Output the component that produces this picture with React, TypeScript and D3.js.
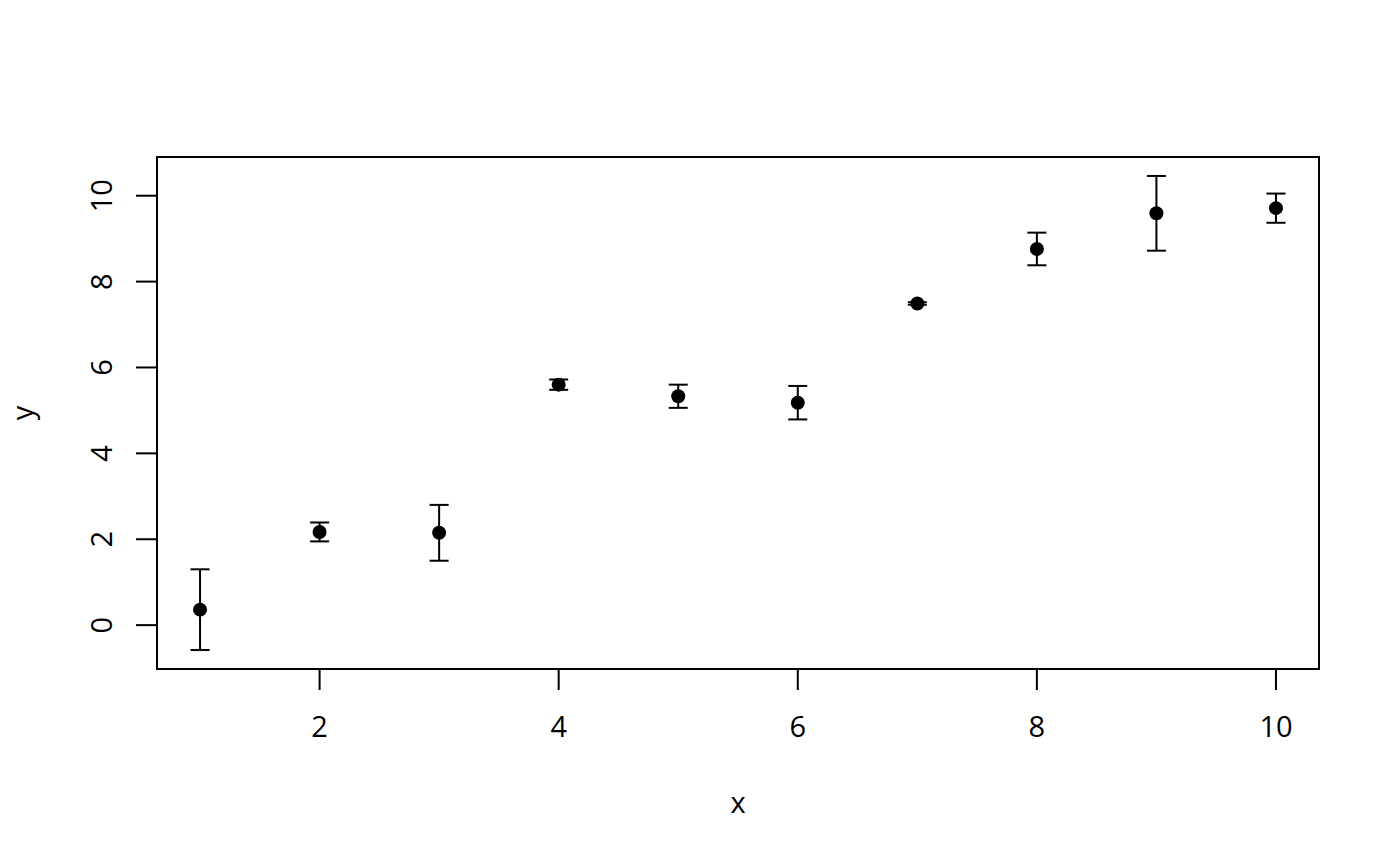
import React, { useEffect, useRef } from "react";
import * as d3 from "d3";

// values
const xs = [1, 2, 3, 4, 5, 6, 7, 8, 9, 10];
const means = [0.36, 2.17, 2.15, 5.6, 5.33, 5.18, 7.49, 8.76, 9.59, 9.71];
const errs = [0.94, 0.22, 0.65, 0.12, 0.27, 0.39, 0.03, 0.38, 0.87, 0.34];
const xTicks = [2, 4, 6, 8, 10];
const yTicks = [0, 2, 4, 6, 8, 10];

// R style axis range: data range padded by 4% on each side
const padRange = (lo: number, hi: number): [number, number] => {
  const r = hi - lo;
  return [lo - 0.04 * r, hi + 0.04 * r];
};

const App: React.FC = () => {
  const svgRef = useRef<SVGSVGElement>(null);

  useEffect(() => {
    if (!svgRef.current) return;
    const width = 1400;
    const height = 866;
    const margin = { top: 157, right: 81, bottom: 197, left: 157 };
    const font = "'Open Sans', sans-serif";
    const fontSize = 29;

    const svg = d3.select(svgRef.current);
    svg.selectAll("*").remove();
    svg.attr("width", width).attr("height", height);

    const lows = means.map((m, i) => m - errs[i]);
    const highs = means.map((m, i) => m + errs[i]);

    const x = d3
      .scaleLinear()
      .domain(padRange(d3.min(xs)!, d3.max(xs)!))
      .range([margin.left, width - margin.right]);
    const y = d3
      .scaleLinear()
      .domain(padRange(d3.min(lows)!, d3.max(highs)!))
      .range([height - margin.bottom, margin.top]);

    const bottom = height - margin.bottom;
    const left = margin.left;

    // plot frame
    svg
      .append("rect")
      .attr("x", margin.left)
      .attr("y", margin.top)
      .attr("width", width - margin.left - margin.right)
      .attr("height", height - margin.top - margin.bottom)
      .attr("fill", "none")
      .attr("stroke", "#000")
      .attr("stroke-width", 2);

    // x axis
    const xAxis = svg.append("g");
    xAxis
      .selectAll("line")
      .data(xTicks)
      .enter()
      .append("line")
      .attr("x1", (d) => x(d))
      .attr("x2", (d) => x(d))
      .attr("y1", bottom)
      .attr("y2", bottom + 21)
      .attr("stroke", "#000")
      .attr("stroke-width", 2);
    xAxis
      .selectAll("text")
      .data(xTicks)
      .enter()
      .append("text")
      .attr("x", (d) => x(d))
      .attr("y", 737)
      .attr("text-anchor", "middle")
      .style("font-family", font)
      .style("font-size", `${fontSize}px`)
      .text((d) => d);

    // y axis
    const yAxis = svg.append("g");
    yAxis
      .selectAll("line")
      .data(yTicks)
      .enter()
      .append("line")
      .attr("x1", left)
      .attr("x2", left - 21)
      .attr("y1", (d) => y(d))
      .attr("y2", (d) => y(d))
      .attr("stroke", "#000")
      .attr("stroke-width", 2);
    yAxis
      .selectAll("text")
      .data(yTicks)
      .enter()
      .append("text")
      .attr("transform", (d) => `translate(112,${y(d)}) rotate(-90)`)
      .attr("text-anchor", "middle")
      .style("font-family", font)
      .style("font-size", `${fontSize}px`)
      .text((d) => d);

    // axis titles
    svg
      .append("text")
      .attr("x", (margin.left + width - margin.right) / 2)
      .attr("y", 813)
      .attr("text-anchor", "middle")
      .style("font-family", font)
      .style("font-size", `${fontSize}px`)
      .text("x");
    svg
      .append("text")
      .attr(
        "transform",
        `translate(33,${(margin.top + height - margin.bottom) / 2}) rotate(-90)`,
      )
      .attr("text-anchor", "middle")
      .style("font-family", font)
      .style("font-size", `${fontSize}px`)
      .text("y");

    // error bars
    const bars = svg
      .append("g")
      .selectAll("g")
      .data(xs)
      .enter()
      .append("g")
      .attr("stroke", "#000")
      .attr("stroke-width", 2);
    const cap = 9.5;
    bars
      .append("line")
      .attr("x1", (d) => x(d))
      .attr("x2", (d) => x(d))
      .attr("y1", (_d, i) => y(lows[i]))
      .attr("y2", (_d, i) => y(highs[i]));
    bars
      .append("line")
      .attr("x1", (d) => x(d) - cap)
      .attr("x2", (d) => x(d) + cap)
      .attr("y1", (_d, i) => y(lows[i]))
      .attr("y2", (_d, i) => y(lows[i]));
    bars
      .append("line")
      .attr("x1", (d) => x(d) - cap)
      .attr("x2", (d) => x(d) + cap)
      .attr("y1", (_d, i) => y(highs[i]))
      .attr("y2", (_d, i) => y(highs[i]));

    // points
    svg
      .append("g")
      .selectAll("circle")
      .data(xs)
      .enter()
      .append("circle")
      .attr("cx", (d) => x(d))
      .attr("cy", (_d, i) => y(means[i]))
      .attr("r", 7)
      .attr("fill", "#000");
  }, []);

  return (
    <svg
      ref={svgRef}
      style={{ position: "absolute", left: 0, top: 0, background: "#fff" }}
    />
  );
};

export default App;
